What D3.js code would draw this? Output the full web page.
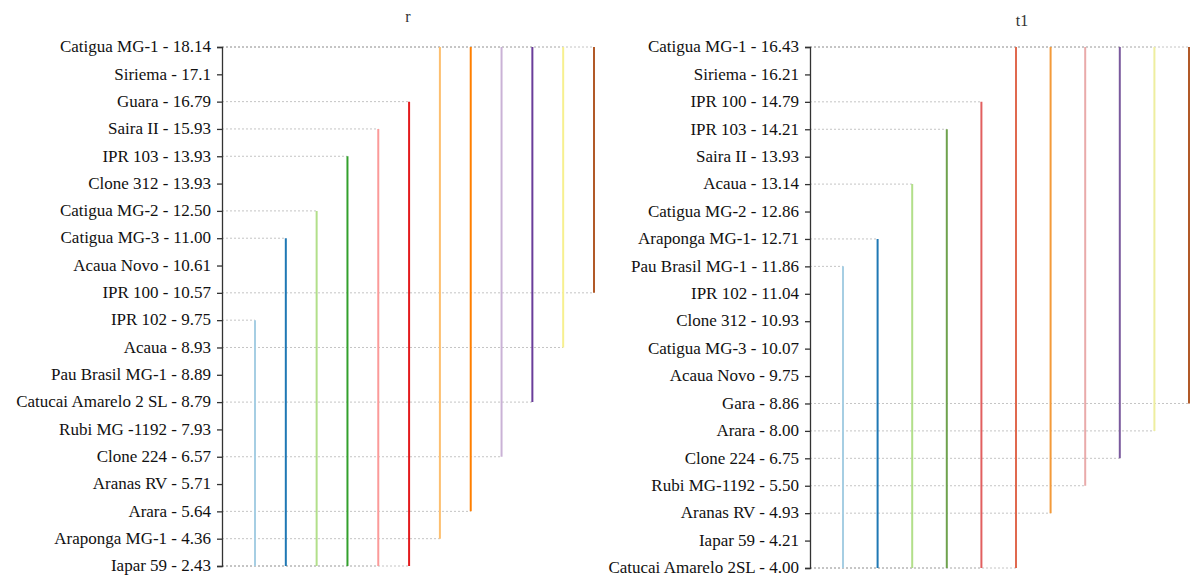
<!DOCTYPE html>
<html>
<head>
<meta charset="utf-8">
<script src="https://cdn.jsdelivr.net/npm/d3@7/dist/d3.min.js"></script>
<style>
  html, body { margin: 0; padding: 0; background: #fff; }
  svg { display: block; }
</style>
</head>
<body>
<svg id="chart" width="1192" height="577"></svg>
<script>
// ---- Panel "r": genotypes ranked by mean, with grouping bars ----
const labelsR = [
  "Catigua MG-1 - 18.14", "Siriema - 17.1", "Guara - 16.79", "Saira II - 15.93",
  "IPR 103 - 13.93", "Clone 312 - 13.93", "Catigua MG-2 - 12.50", "Catigua MG-3 - 11.00",
  "Acaua Novo - 10.61", "IPR 100 - 10.57", "IPR 102 - 9.75", "Acaua - 8.93",
  "Pau Brasil MG-1 - 8.89", "Catucai Amarelo 2 SL - 8.79", "Rubi MG -1192 - 7.93",
  "Clone 224 - 6.57", "Aranas RV - 5.71", "Arara - 5.64", "Araponga MG-1 - 4.36", "Iapar 59 - 2.43"
];
const valuesR = [18.14, 17.1, 16.79, 15.93, 13.93, 13.93, 12.50, 11.00, 10.61, 10.57,
                 9.75, 8.93, 8.89, 8.79, 7.93, 6.57, 5.71, 5.64, 4.36, 2.43];
// first and last member (row index) of each group bar
const groupTopR    = [10, 7, 6, 4, 3, 2, 0, 0, 0, 0, 0, 0];
const groupBottomR = [19, 19, 19, 19, 19, 19, 18, 17, 15, 13, 11, 9];
const colorsR = ["#a6cee3", "#1f78b4", "#b2df8a", "#33a02c", "#fb9a99", "#e31a1c",
                 "#fdbf6f", "#ff7f00", "#cab2d6", "#6a3d9a", "#f7f08f", "#b15928"];

// ---- Panel "t1" ----
const labelsT = [
  "Catigua MG-1 - 16.43", "Siriema - 16.21", "IPR 100 - 14.79", "IPR 103 - 14.21",
  "Saira II - 13.93", "Acaua - 13.14", "Catigua MG-2 - 12.86", "Araponga MG-1- 12.71",
  "Pau Brasil MG-1 - 11.86", "IPR 102 - 11.04", "Clone 312 - 10.93", "Catigua MG-3 - 10.07",
  "Acaua Novo - 9.75", "Gara - 8.86", "Arara - 8.00", "Clone 224 - 6.75",
  "Rubi MG-1192 - 5.50", "Aranas RV - 4.93", "Iapar 59 - 4.21", "Catucai Amarelo 2SL - 4.00"
];
const valuesT = [16.43, 16.21, 14.79, 14.21, 13.93, 13.14, 12.86, 12.71, 11.86, 11.04,
                 10.93, 10.07, 9.75, 8.86, 8.00, 6.75, 5.50, 4.93, 4.21, 4.00];
const groupTopT    = [8, 7, 5, 3, 2, 0, 0, 0, 0, 0, 0];
const groupBottomT = [19, 19, 19, 19, 19, 19, 17, 16, 15, 14, 13];
const colorsT = ["#a6cee3", "#1f78b4", "#b2df8a", "#6fa24e", "#e25f5f", "#e0694f",
                 "#f39a3a", "#e9aaaa", "#7a5a9e", "#eeeea0", "#b15928"];

const svg = d3.select("#chart");
const FONT = "'Liberation Serif', 'Times New Roman', serif";

function drawPanel(opt) {
  const g = svg.append("g");
  const n = opt.labels.length;

  const y = d3.scalePoint()
    .domain(d3.range(n))
    .range([opt.top, opt.bottom])
    .padding(0);

  const groups = opt.tops.map((t, i) => ({ id: i, top: t, bottom: opt.bottoms[i], color: opt.colors[i] }));

  const x = d3.scalePoint()
    .domain(groups.map(d => d.id))
    .range([opt.axisX + opt.x0, opt.axisX + opt.x1])
    .padding(0);

  // dashed guides from the axis to the ends of each group bar
  const guides = [];
  groups.forEach(d => {
    guides.push({ row: d.top, x: x(d.id) });
    guides.push({ row: d.bottom, x: x(d.id) });
  });
  g.append("g").selectAll("line")
    .data(guides)
    .join("line")
    .attr("x1", opt.axisX)
    .attr("x2", d => d.x)
    .attr("y1", d => y(d.row))
    .attr("y2", d => y(d.row))
    .attr("stroke", "#c4c4c4")
    .attr("stroke-width", 1)
    .attr("stroke-dasharray", "2,2");

  // group bars
  g.append("g").selectAll("line")
    .data(groups)
    .join("line")
    .attr("x1", d => x(d.id))
    .attr("x2", d => x(d.id))
    .attr("y1", d => y(d.top))
    .attr("y2", d => y(d.bottom))
    .attr("stroke", d => d.color)
    .attr("stroke-width", 2);

  // category axis
  const axis = d3.axisLeft(y)
    .tickSize(5)
    .tickSizeOuter(5)
    .tickPadding(6)
    .tickFormat(i => opt.labels[i]);
  const ax = g.append("g")
    .attr("transform", `translate(${opt.axisX},0)`)
    .call(axis);
  ax.select(".domain").attr("stroke", "#333").attr("stroke-width", 1.3);
  ax.selectAll(".tick line").attr("stroke", "#333").attr("stroke-width", 1.3);
  ax.selectAll(".tick text")
    .attr("fill", "#111")
    .attr("dy", "0.28em")
    .style("font-family", FONT)
    .style("font-size", "17px");

  // panel title
  g.append("text")
    .attr("x", opt.titleX)
    .attr("y", opt.titleY)
    .attr("text-anchor", "middle")
    .attr("fill", "#333")
    .style("font-family", FONT)
    .style("font-size", "16px")
    .text(opt.title);
}

drawPanel({
  title: "r", titleX: 408, titleY: 22,
  labels: labelsR, values: valuesR,
  tops: groupTopR, bottoms: groupBottomR, colors: colorsR,
  axisX: 222, x0: 33, x1: 372, top: 47, bottom: 566
});

drawPanel({
  title: "t1", titleX: 1022, titleY: 26,
  labels: labelsT, values: valuesT,
  tops: groupTopT, bottoms: groupBottomT, colors: colorsT,
  axisX: 810, x0: 33, x1: 379, top: 47, bottom: 568
});
</script>
</body>
</html>
